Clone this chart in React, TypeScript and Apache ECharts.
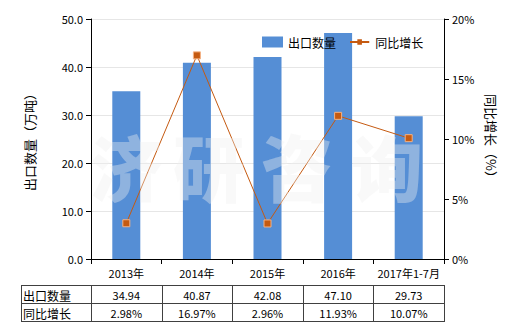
import React, { useEffect, useRef } from "react";
import * as echarts from "echarts";

const categories = ["2013年", "2014年", "2015年", "2016年", "2017年1-7月"];
const exportQty = [34.94, 40.87, 42.08, 47.1, 29.73];
const growth = [2.98, 16.97, 2.96, 11.93, 10.07];
const rowNames = ["出口数量", "同比增长"];
const watermarkChars = ["济", "研", "咨", "询"];

const FONT = "'Microsoft YaHei', 'Noto Sans CJK SC', sans-serif";

export default function App() {
  const ref = useRef<HTMLDivElement>(null);
  useEffect(() => {
    document.body.style.margin = "0";
    if (!ref.current) return;
    const chart = echarts.init(ref.current, null, { renderer: "svg" });
    const gridLeft = 91;
    const gridRight = 444;
    const colW = (gridRight - gridLeft) / categories.length;
    const tableLeft = 21;
    const rowTop = [285, 303];
    const rowH = 18;

    const graphics: any[] = [];
    const tableBottom = rowTop[1] + rowH;
    const lineStyle = { stroke: "#404040", lineWidth: 1 };
    [rowTop[0], rowTop[1], tableBottom].forEach((y) => {
      graphics.push({ type: "line", shape: { x1: tableLeft, y1: y + 0.5, x2: gridRight, y2: y + 0.5 }, style: lineStyle, silent: true });
    });
    const xs = [tableLeft, ...categories.map((_, i) => gridLeft + colW * i), gridRight];
    xs.forEach((x) => {
      const rx = Math.round(x) + 0.5;
      graphics.push({ type: "line", shape: { x1: rx, y1: rowTop[0], x2: rx, y2: tableBottom + 1 }, style: lineStyle, silent: true });
    });
    rowNames.forEach((n, r) => {
      graphics.push({
        type: "text", x: tableLeft + 2, y: rowTop[r] + rowH / 2 + 1,
        style: { text: n, font: `12px ${FONT}`, fill: "#000", align: "left", verticalAlign: "middle" },
      });
    });
    categories.forEach((_, i) => {
      const cx = gridLeft + colW * (i + 0.5);
      graphics.push({
        type: "text", x: cx, y: rowTop[0] + rowH / 2 + 1,
        style: { text: exportQty[i].toFixed(2), font: `11px ${FONT}`, fill: "#000", align: "center", verticalAlign: "middle" },
      });
      graphics.push({
        type: "text", x: cx, y: rowTop[1] + rowH / 2 + 1,
        style: { text: growth[i].toFixed(2) + "%", font: `11px ${FONT}`, fill: "#000", align: "center", verticalAlign: "middle" },
      });
    });
    const wmX = [126, 209, 297, 387];
    watermarkChars.forEach((c, i) => {
      graphics.push({
        type: "text", x: wmX[i], y: 164, z: 100,
        style: {
          text: c, font: `900 72px ${FONT}`, fill: "rgba(240,240,240,0.38)",
          align: "center", verticalAlign: "middle",
        },
        silent: true,
      });
    });

    chart.setOption({
      animation: false,
      textStyle: { fontFamily: FONT },
      legend: {
        top: 31, left: 257,
        itemWidth: 21, itemHeight: 11, itemGap: 14,
        textStyle: { fontSize: 12, color: "#000", fontFamily: FONT },
        data: [
          { name: "出口数量", icon: "rect" },
          {
            name: "同比增长",
            icon: "path://M0,5 L21,5 L21,7 L0,7 Z M8,3 L13,3 L13,9 L8,9 Z M0,0 L0.01,0 L0.01,0.01 Z M0,11.99 L0.01,11.99 L0.01,12 Z",
            itemStyle: { color: "#c55a11", borderWidth: 0 },
          },
        ],
      },
      grid: { left: gridLeft, right: 520 - gridRight, top: 19, bottom: 71 },
      xAxis: {
        type: "category",
        data: categories,
        axisLine: { lineStyle: { color: "#000" } },
        axisTick: { show: true, alignWithLabel: false, lineStyle: { color: "#000" } },
        axisLabel: { color: "#000", fontSize: 11, margin: 8, interval: 0 },
      },
      yAxis: [
        {
          type: "value", min: 0, max: 50, interval: 10,
          name: "出口数量（万吨）", nameLocation: "middle", nameGap: 55, nameRotate: 90,
          nameTextStyle: { fontSize: 13, color: "#000" },
          axisLine: { show: true, lineStyle: { color: "#000" } },
          axisTick: { show: true, length: 5, lineStyle: { color: "#000" } },
          axisLabel: { color: "#000", fontSize: 11, formatter: (v: number) => v.toFixed(1) },
          splitLine: { lineStyle: { color: "#e6e6e6" } },
        },
        {
          type: "value", min: 0, max: 20, interval: 5,
          name: "同比增长（%）", nameLocation: "middle", nameGap: 40, nameRotate: -90,
          nameTextStyle: { fontSize: 13, color: "#000" },
          axisLine: { show: true, lineStyle: { color: "#000" } },
          axisTick: { show: true, length: 5, lineStyle: { color: "#000" } },
          axisLabel: { color: "#000", fontSize: 11, formatter: "{value}%" },
          splitLine: { show: false },
        },
      ],
      series: [
        {
          name: "出口数量", type: "bar", data: exportQty, barWidth: 28,
          itemStyle: { color: "#558ed5" },
        },
        {
          name: "同比增长", type: "line", yAxisIndex: 1, data: growth,
          symbol: "rect", symbolSize: 7,
          lineStyle: { color: "#c55a11", width: 1 },
          itemStyle: { color: "#c55a11", borderColor: "#f4b183", borderWidth: 1 },
        },
      ],
      graphic: graphics,
    });
    return () => chart.dispose();
  }, []);
  return <div ref={ref} style={{ width: 520, height: 330 }} />;
}
